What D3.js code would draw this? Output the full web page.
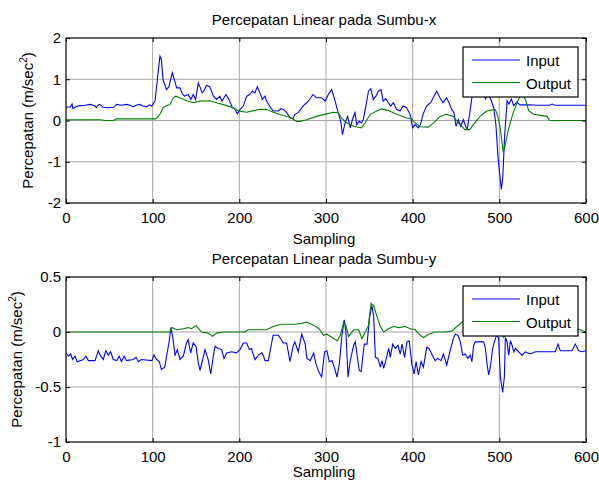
<!DOCTYPE html>
<html>
<head>
<meta charset="utf-8">
<script src="https://cdn.jsdelivr.net/npm/d3@7"></script>
<style>
  body { margin: 0; background: #fff; }
  svg { display: block; font-family: "Liberation Sans", Arial, sans-serif; }
  .grid line { stroke: #a8a8a8; stroke-width: 1; }
  .axis path { display: none; }
  .axis line { stroke: #000; }
  .axis text { font-size: 15px; fill: #000; }
</style>
</head>
<body>
<div class="chart"></div>
<script>
// sample axis
var sampleTicks = [0, 100, 200, 300, 400, 500, 600];
var seriesNames = ["Input", "Output"];
var seriesColors = ["#0000ff", "#008000"];

// Sumbu-x : [sample, m/sec^2]
var xTicks = [-2, -1, 0, 1, 2];
var xInput = [[0,0.32],[5,0.33],[7,0.40],[8,0.29],[12,0.34],[16,0.36],[22,0.37],[28,0.39],[33,0.36],[35,0.31],[37,0.37],[39,0.39],[43,0.32],[48,0.31],[55,0.32],[58.5,0.39],[64,0.37],[70,0.39],[74,0.37],[77.7,0.33],[81,0.37],[85,0.39],[89,0.35],[93,0.33],[96,0.38],[99,0.35],[102.7,0.47],[105,0.91],[108.4,1.56],[110,1.48],[112,0.99],[116,0.75],[118.8,0.82],[122.7,1.16],[125,0.99],[127.7,0.79],[131.5,0.79],[134.6,0.63],[137,0.59],[141,0.63],[144,0.51],[146.8,0.63],[149.5,0.51],[152.7,0.91],[155,0.79],[157,0.67],[159,0.71],[162,0.85],[166,0.82],[170,0.59],[173.8,0.51],[177.6,0.59],[180,0.47],[184.6,0.63],[188,0.51],[192,0.31],[195,0.27],[197.7,0.16],[200.8,0.27],[204.6,0.35],[208.5,0.59],[212,0.63],[215,0.71],[218,0.67],[220.7,0.82],[223.8,0.67],[226.5,0.51],[229.6,0.59],[231.5,0.47],[235,0.35],[239,0.23],[245,0.23],[248,0.29],[250.8,0.27],[254.6,0.19],[259,0.06],[262,0.05],[264,0.15],[268,0.19],[274,0.36],[277.7,0.43],[280,0.48],[285,0.63],[289,0.55],[295,0.55],[299,0.47],[302.7,0.63],[306.5,0.75],[310,0.51],[314,0.19],[317,-0.02],[319,-0.34],[322,-0.06],[325,0.10],[328,-0.18],[331,0.06],[333.5,0.19],[335.4,-0.10],[338.5,-0.02],[341,-0.06],[343,0.02],[346,0.35],[349,0.71],[351.6,0.77],[354.6,0.51],[357.7,0.59],[360.4,0.71],[363.5,0.75],[366,0.47],[369,0.53],[372,0.43],[374.6,0.35],[377.7,0.43],[381.5,0.27],[385.4,0.23],[389,0.35],[393,0.31],[397,0.15],[400,-0.18],[402.7,-0.10],[406.5,-0.18],[409,-0.10],[412,0.15],[416,0.35],[420.7,0.43],[424.6,0.59],[427.7,0.71],[431.5,0.55],[435,0.43],[439,0.55],[442,0.43],[445,0.27],[447.7,0.19],[450,-0.14],[452.7,0.02],[455.4,-0.14],[458.5,0.02],[461,-0.14],[463,-0.21],[466,0.19],[468,0.51],[470,0.67],[474,0.78],[478,0.60],[481,0.72],[484,0.52],[487,0.62],[490,0.52],[493.5,0.31],[496,-0.09],[498.5,-0.90],[502.3,-1.67],[504,-1.38],[506,-0.41],[509,0.48],[511,0.40],[514,0.52],[516.5,0.36],[520,0.44],[524,0.38],[534,0.38],[545,0.37],[558,0.37],[561,0.40],[564,0.37],[580,0.37],[600,0.37]];
var xOutput = [[0,0.02],[40,0.02],[45,0],[55,0],[58,0.04],[104,0.04],[108.4,0.15],[112,0.31],[116,0.36],[120,0.39],[123.8,0.55],[126.5,0.59],[131.5,0.55],[139,0.48],[146.8,0.43],[154.5,0.47],[166,0.48],[173.8,0.43],[185.4,0.36],[193,0.31],[198.8,0.23],[208.5,0.20],[216,0.24],[223.8,0.27],[231.5,0.27],[239,0.20],[250.8,0.12],[258.5,0.08],[266,-0.02],[270,-0.02],[277.7,0.02],[289,0.10],[300.8,0.16],[308.5,0.20],[314,0.19],[318,0.06],[324,-0.06],[332,-0.14],[341,-0.18],[345,-0.06],[351,0.15],[358.5,0.23],[364,0.28],[372,0.24],[381.5,0.15],[393,0.06],[398.8,0.05],[402.7,-0.06],[408.5,-0.15],[418,-0.16],[423.8,-0.07],[431.5,0.10],[439,0.15],[447,0.10],[454.6,-0.10],[460.4,-0.22],[466,-0.22],[470,-0.10],[477.7,0.10],[485.4,0.23],[495,0.27],[497,0.19],[500.8,-0.14],[504.6,-0.78],[506.5,-0.62],[510.4,-0.22],[516,0.19],[522,0.51],[526,0.68],[530,0.51],[534,0.23],[539.6,0.15],[555,0.10],[558,0],[600,0]];

// Sumbu-y : [sample, m/sec^2]
var yTicks = [-1, -0.5, 0, 0.5];
var yInput = [[0,-0.19],[2.7,-0.22],[5.4,-0.20],[7.7,-0.25],[10.4,-0.22],[13,-0.27],[20,-0.25],[23,-0.22],[25.8,-0.26],[33.5,-0.26],[37.3,-0.17],[40,-0.22],[43,-0.25],[46,-0.17],[48.8,-0.21],[51.5,-0.18],[54.6,-0.25],[58.5,-0.26],[61.5,-0.22],[64,-0.27],[67,-0.22],[70,-0.26],[77.7,-0.25],[80.8,-0.23],[83.5,-0.27],[87,-0.25],[99,-0.26],[101.5,-0.21],[104.6,-0.25],[107.7,-0.27],[110,-0.34],[114,-0.32],[116,-0.22],[118.8,-0.10],[121,0.04],[123,-0.04],[125.8,-0.21],[128.5,-0.16],[131.5,-0.25],[135.4,-0.22],[139,-0.10],[141,-0.07],[143.8,-0.19],[146.8,-0.10],[150,-0.13],[152.7,-0.28],[154.6,-0.35],[157.7,-0.25],[160.4,-0.16],[162.3,-0.21],[164,-0.25],[167,-0.38],[170,-0.22],[172,-0.13],[175.8,-0.15],[179.6,-0.16],[182.3,-0.24],[185.4,-0.19],[191,-0.18],[196.8,-0.19],[200.8,-0.16],[204.6,-0.10],[208.5,-0.10],[211.5,-0.16],[214,-0.15],[218,-0.25],[222,-0.21],[226,-0.19],[228,-0.22],[229.6,-0.26],[233.5,-0.26],[237.3,-0.10],[239,-0.03],[245,-0.03],[250.8,-0.10],[254.6,-0.10],[258.5,-0.27],[262,-0.13],[264,-0.09],[268,-0.18],[272,-0.02],[276,-0.11],[278,-0.24],[281.8,-0.26],[285.8,-0.19],[288.5,-0.29],[291.5,-0.36],[295,-0.41],[298.4,-0.18],[301,-0.17],[303.8,-0.27],[306.9,-0.26],[310,-0.33],[312.7,-0.41],[315.4,-0.29],[318.4,-0.03],[321,0.11],[323,0],[325.4,-0.41],[328,-0.26],[331.9,-0.12],[333.8,-0.09],[335.7,-0.20],[338.4,-0.35],[340.7,-0.36],[342.3,-0.23],[344.2,-0.11],[347.3,-0.11],[350.4,0.14],[353,0.24],[355,0.14],[357,-0.23],[360,-0.24],[362.7,-0.32],[364.6,-0.26],[366.5,-0.33],[369.6,-0.24],[372.3,-0.15],[374.2,-0.23],[377,-0.11],[380,-0.15],[383,-0.12],[385.7,-0.20],[387.7,-0.11],[390.7,-0.23],[393.4,-0.09],[396,-0.08],[399,-0.29],[401.7,-0.38],[404,-0.27],[406.6,-0.39],[409.7,-0.27],[412.4,-0.32],[416.2,-0.14],[418.9,-0.15],[422,-0.20],[425.8,-0.26],[428.9,-0.24],[432.8,-0.26],[435.5,-0.20],[439.3,-0.30],[443.2,-0.17],[447,-0.06],[449.2,-0.02],[452.3,-0.03],[455,-0.09],[457.7,-0.21],[460.7,-0.20],[463.8,-0.24],[466.5,-0.21],[468.4,-0.27],[470.3,-0.12],[472.3,-0.09],[481.9,-0.09],[483.8,-0.14],[485.8,-0.29],[487.7,-0.39],[489.6,-0.32],[492.3,-0.15],[494.6,-0.08],[497.3,-0.02],[499.2,-0.06],[501.2,-0.41],[503.8,-0.55],[505.8,-0.41],[507,-0.05],[508.9,-0.09],[510.8,-0.21],[512.8,-0.08],[514.7,-0.12],[516.6,-0.18],[518.6,-0.15],[522.4,-0.18],[526.2,-0.21],[530,-0.18],[535.8,-0.20],[541.6,-0.18],[553,-0.18],[564.6,-0.18],[567.7,-0.11],[570.4,-0.17],[583.8,-0.17],[587.7,-0.11],[591.6,-0.17],[595.4,-0.18],[600,-0.17]];
var yOutput = [[0,0],[120,0],[122,0.04],[127.7,0.02],[135,0.03],[141,0.04],[145,0.03],[150,0.06],[153,0.03],[156.5,0],[164,-0.01],[169,-0.04],[173.8,-0.01],[181.5,0],[206.5,0],[210,0.02],[231.5,0.02],[239,0.05],[249,0.07],[257,0.07],[264.6,0.07],[272,0.08],[278,0.09],[286,0.06],[292,0.03],[297,-0.03],[301,-0.02],[307,-0.05],[313,-0.08],[316.5,-0.03],[320.4,0.09],[323,0.06],[326,-0.04],[332,0.02],[337.7,0.02],[341.5,-0.06],[345.4,0],[349,0.06],[352,0.26],[355,0.24],[358.8,0.14],[362.7,0.05],[366.5,0],[372,0.03],[378,0.05],[384,0.04],[391.5,0.05],[397.3,0.03],[403,0.02],[408.8,-0.03],[412.7,-0.05],[418.5,-0.02],[426,0],[437.8,0],[445.4,0.01],[451,0.05],[457,0.09],[465,0.10],[480,0.08],[495,0.06],[500,0.02],[505,-0.05],[510,0.02],[520,0.05],[560,0.04],[590,0.03],[593,0.02],[600,0]];

var width = 599, height = 485;
var svg = d3.select(".chart").append("svg")
    .attr("width", width)
    .attr("height", height);
svg.append("rect").attr("width", width).attr("height", height).attr("fill", "#fff");

var xScale = d3.scaleLinear().domain([0, 600]).range([66, 586]);

function drawPanel(p) {
  var yScale = d3.scaleLinear().domain(p.domain).range([p.bottom, p.top]);
  var g = svg.append("g");
  var clipId = "clip-" + p.key;

  g.append("clipPath").attr("id", clipId)
    .append("rect")
    .attr("x", 66).attr("y", p.top)
    .attr("width", 520).attr("height", p.bottom - p.top);

  // grid
  var grid = g.append("g").attr("class", "grid");
  grid.selectAll(".gx").data(sampleTicks.slice(1, -1)).enter().append("line")
    .attr("x1", function(d) { return xScale(d); })
    .attr("x2", function(d) { return xScale(d); })
    .attr("y1", p.top).attr("y2", p.bottom);
  grid.selectAll(".gy").data(p.ticks.filter(function(d) { return d != p.domain[0] && d != p.domain[1]; }))
    .enter().append("line")
    .attr("x1", 66).attr("x2", 586)
    .attr("y1", function(d) { return yScale(d); })
    .attr("y2", function(d) { return yScale(d); });

  // data lines
  var line = d3.line()
    .x(function(d) { return xScale(d[0]); })
    .y(function(d) { return yScale(d[1]); });
  var plot = g.append("g").attr("clip-path", "url(#" + clipId + ")");
  p.series.forEach(function(s, i) {
    plot.append("path")
      .datum(s)
      .attr("fill", "none")
      .attr("stroke", seriesColors[i])
      .attr("stroke-width", 1.1)
      .attr("d", line);
  });

  // axes, ticks inside on all sides
  var fmt = function(d) { return String(d); };
  g.append("g").attr("class", "axis")
    .attr("transform", "translate(0," + p.bottom + ")")
    .call(d3.axisBottom(xScale).tickValues(sampleTicks).tickSize(-4).tickPadding(9).tickFormat(fmt));
  g.append("g").attr("class", "axis")
    .attr("transform", "translate(0," + p.top + ")")
    .call(d3.axisTop(xScale).tickValues(sampleTicks).tickSize(-4).tickFormat(""));
  g.append("g").attr("class", "axis")
    .attr("transform", "translate(66,0)")
    .call(d3.axisLeft(yScale).tickValues(p.ticks).tickSize(-4).tickPadding(5).tickFormat(fmt));
  g.append("g").attr("class", "axis")
    .attr("transform", "translate(586,0)")
    .call(d3.axisRight(yScale).tickValues(p.ticks).tickSize(-4).tickFormat(""));

  g.append("rect")
    .attr("x", 66).attr("y", p.top)
    .attr("width", 520).attr("height", p.bottom - p.top)
    .attr("fill", "none").attr("stroke", "#000").attr("stroke-width", 1.2);

  // labels
  g.append("text")
    .attr("x", 324).attr("y", p.top - 13)
    .attr("text-anchor", "middle")
    .style("font-size", "15px")
    .text(p.title);
  g.append("text")
    .attr("x", 324).attr("y", p.bottom + p.xlabelGap)
    .attr("text-anchor", "middle")
    .style("font-size", "15px")
    .text("Sampling");
  var yl = g.append("text")
    .attr("transform", "translate(" + p.ylabelX + "," + ((p.top + p.bottom) / 2) + ") rotate(-90)")
    .attr("text-anchor", "middle")
    .style("font-size", "15px");
  yl.append("tspan").text("Percepatan (m/sec");
  yl.append("tspan").attr("dy", "-6").style("font-size", "10px").text("2");
  yl.append("tspan").attr("dy", "6").text(")");

  // legend
  var lg = g.append("g").attr("transform", "translate(463," + (p.top + 9) + ")");
  lg.append("rect")
    .attr("width", 115).attr("height", 50)
    .attr("fill", "#fff").attr("stroke", "#000").attr("stroke-width", 1.2);
  seriesNames.forEach(function(name, i) {
    var yy = 13 + i * 22.5;
    lg.append("line")
      .attr("x1", 9).attr("x2", 57)
      .attr("y1", yy).attr("y2", yy)
      .attr("stroke", seriesColors[i]).attr("stroke-width", 1.1);
    lg.append("text")
      .attr("x", 63).attr("y", yy + 6)
      .style("font-size", "15px")
      .text(name);
  });
}

drawPanel({ key: "x", title: "Percepatan Linear pada Sumbu-x", top: 38, bottom: 203,
  domain: [-2, 2], ticks: xTicks, series: [xInput, xOutput], ylabelX: 33, xlabelGap: 41 });
drawPanel({ key: "y", title: "Percepatan Linear pada Sumbu-y", top: 277, bottom: 442,
  domain: [-1, 0.5], ticks: yTicks, series: [yInput, yOutput], ylabelX: 22, xlabelGap: 35 });
</script>
</body>
</html>
